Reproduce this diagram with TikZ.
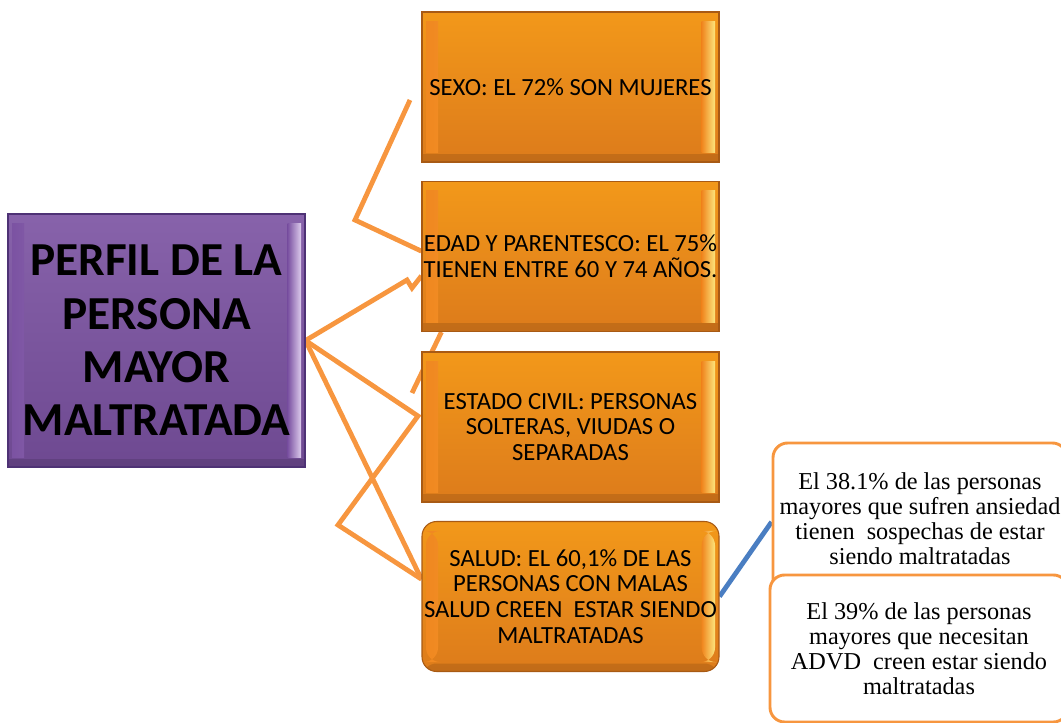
\documentclass[tikz,border=0pt]{standalone}
\usepackage{fontspec}
\setmainfont{Liberation Serif}
\newfontfamily\calibri{Carlito}
\usetikzlibrary{positioning}
\pgfdeclarelayer{background}
\pgfsetlayers{background,main}
\definecolor{naranja}{HTML}{F0861E}
\definecolor{naranjaosc}{HTML}{A85A14}
\definecolor{brillo}{HTML}{FCE47C}
\definecolor{linea}{HTML}{F7963F}
\definecolor{morado}{HTML}{7A51A1}
\definecolor{moradoosc}{HTML}{4E3275}
\definecolor{moradocl}{HTML}{DCCBEC}
\definecolor{azul}{HTML}{4A7EC2}
\begin{document}
\begin{tikzpicture}[x=0.75pt,y=-0.75pt]
	\tikzset{bisel/.style 2 args={path picture={
		\shade[left color=#1,right color=#2]([xshift=3pt,yshift=-7pt]path picture bounding box.north west)rectangle([xshift=12pt,yshift=7pt]path picture bounding box.south west);
		\shade[left color=#1,right color=#2]([xshift=-13pt,yshift=-7pt]path picture bounding box.north east)rectangle([xshift=-3pt,yshift=7pt]path picture bounding box.south east);
		\fill[black,opacity=.12]([yshift=6pt]path picture bounding box.south west)rectangle(path picture bounding box.south east);}},
	caja/.style={draw=naranjaosc,line width=0.8pt,top color=naranja!85!yellow,bottom color=naranja!92!black,bisel={naranja}{brillo},minimum width=222.75pt,minimum height=112.5pt,inner sep=0pt,align=center,font=\calibri\fontsize{18.5}{19.3}\selectfont},
	perfil/.style={draw=moradoosc,line width=0.8pt,top color=morado!90!white,bottom color=morado!90!black,bisel={morado}{moradocl},minimum width=222.75pt,minimum height=189.75pt,inner sep=0pt,align=center,font=\calibri\bfseries\fontsize{35.5}{40}\selectfont},
	nota/.style={draw=linea,line width=2.2pt,fill=white,rounded corners=11pt,inner sep=0pt,align=center,font=\fontsize{18.2}{18.8}\selectfont},
	con/.style={linea,line width=3.6pt}}
	\useasboundingbox(0,0)rectangle(1061,723);
	\clip(0,0)rectangle(1061,723);
	\path(156.5,340.5)node[perfil](P){PERFIL DE LA\\PERSONA\\MAYOR\\MALTRATADA};
	\path(570.5,87)node[caja](B1){SEXO: EL 72\% SON MUJERES}
	++(0,169.5)node[caja](B2){EDAD Y PARENTESCO: EL 75\%\\TIENEN ENTRE 60 Y 74 AÑOS.}
	++(0,170.5)node[caja](B3){ESTADO CIVIL: PERSONAS\\SOLTERAS, VIUDAS O\\SEPARADAS}
	++(0,169.5)node[caja,rounded corners=11pt](B4){SALUD: EL 60,1\% DE LAS\\PERSONAS CON MALAS\\SALUD CREEN~ ESTAR SIENDO\\MALTRATADAS};
	\path(920,518.5)node[nota,minimum width=220.5pt,minimum height=113.25pt](N1){El 38.1\% de las personas\\mayores que sufren ansiedad\\tienen~ sospechas de estar\\siendo maltratadas};
	\path(919,648.5)node[nota,minimum width=223.5pt,minimum height=110.25pt](N2){El 39\% de las personas\\mayores que necesitan\\ADVD~ creen estar siendo\\maltratadas};
	% quiebres de los conectores
	\path(410,100)coordinate(q1)(355,220)coordinate(q2)(407,280)coordinate(q3)(412,288)coordinate(q4)
	(412,393)coordinate(q5)(418,416)coordinate(q6)(338,525)coordinate(q7);
	\begin{pgfonlayer}{background}
	\draw[con](q1)--(q2)--([yshift=4pt]B2.west);
	\draw[con](P.east)--(q3)--(q4)--([yshift=-14.5pt]B2.west);
	\draw[con]([xshift=15pt]B2.south west)--(q5);
	\draw[con](P.east)--(q6)--(q7)--([yshift=13pt]B4.west);
	\draw[con](P.east)--([yshift=13pt]B4.west);
	\draw[azul,line width=3.6pt](B4.east)--([yshift=-2.6pt]N1.west);
	\end{pgfonlayer}
\end{tikzpicture}
\end{document}
